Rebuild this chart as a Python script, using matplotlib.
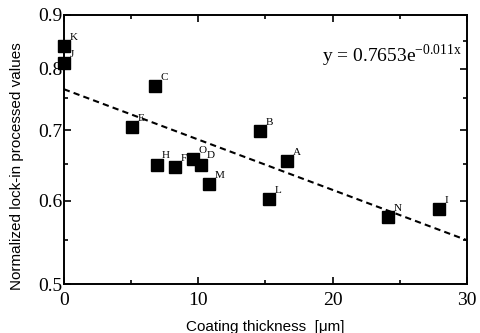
import numpy as np
import matplotlib.pyplot as plt
from matplotlib.ticker import FixedLocator, NullFormatter

plt.rcParams.update({
    'font.family': 'Liberation Serif',
    'font.size': 14,
    'xtick.direction': 'in',
    'ytick.direction': 'in',
    'xtick.top': True,
    'ytick.right': True,
    'axes.linewidth': 1.4,
})

# Data
labels = ['K', 'J', 'C', 'E', 'H', 'F', 'O', 'D', 'M', 'B', 'A', 'L', 'N', 'I']
thickness = [0.0, 0.0, 6.8, 5.1, 6.9, 8.3, 9.6, 10.2, 10.8, 14.6, 16.6, 15.3, 24.1, 27.9]
values = [0.841, 0.810, 0.771, 0.705, 0.649, 0.646, 0.657, 0.649, 0.622, 0.699, 0.654, 0.602, 0.579, 0.589]

# Exponential fit shown on the chart
fit_a, fit_b = 0.7653, -0.011
fit_x = [0, 30]

fig = plt.figure(figsize=(4.8, 3.33), dpi=100)
ax = fig.add_axes([0.133, 0.147, 0.840, 0.808])

ax.set_yscale('log')
xx = np.linspace(fit_x[0], fit_x[1], 50)
ax.plot(xx, fit_a * np.exp(fit_b * xx), color='black', lw=1.5, ls=(0, (3, 2)))

ax.plot(thickness, values, 's', color='black', markersize=9, clip_on=False, zorder=3)
for lab, x, y in zip(labels, thickness, values):
    ax.annotate(lab, (x, y), xytext=(4, 3), textcoords='offset points',
                ha='left', va='bottom', fontsize=8)

ax.set_xlim(0, 30)
ax.set_ylim(0.5, 0.9)
ax.xaxis.set_major_locator(FixedLocator([0, 10, 20, 30]))
ax.xaxis.set_minor_locator(FixedLocator([5, 15, 25]))
ax.yaxis.set_major_locator(FixedLocator([0.5, 0.6, 0.7, 0.8, 0.9]))
ax.yaxis.set_minor_locator(FixedLocator([0.55, 0.65, 0.75, 0.85]))
ax.yaxis.set_major_formatter(plt.FuncFormatter(lambda v, p: f'{v:.1f}'))
ax.yaxis.set_minor_formatter(NullFormatter())
ax.tick_params(which='major', length=5, width=1.2)
ax.tick_params(axis='y', which='major', pad=1)
ax.tick_params(axis='x', which='major', pad=6)
ax.tick_params(which='minor', length=3, width=1.2)

ax.text(0.64, 0.85, r'y = 0.7653e$^{\mathregular{-0.011x}}$', transform=ax.transAxes,
        fontsize=14, va='center', ha='left')

ax.set_xlabel('Coating thickness  [\u03bcm]', family='Liberation Sans', fontsize=11)
ax.set_ylabel('Normalized lock-in processed values', family='Liberation Sans', fontsize=11)
ax.xaxis.set_label_coords(0.5, -0.135)
ax.yaxis.set_label_coords(-0.1, 0.44)

fig.savefig('out.png', dpi=100)
